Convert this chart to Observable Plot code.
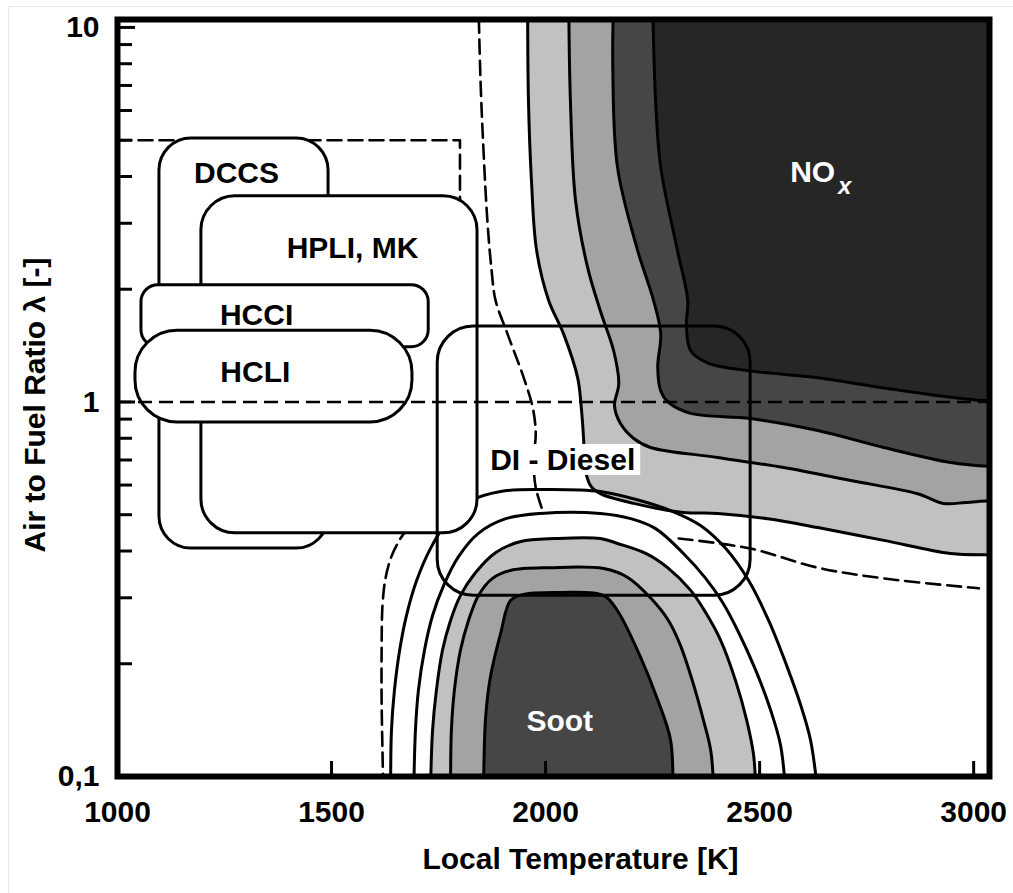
<!DOCTYPE html>
<html>
<head>
<meta charset="utf-8">
<script src="https://cdn.jsdelivr.net/npm/d3@7"></script>
<script src="https://cdn.jsdelivr.net/npm/@observablehq/plot@0.6"></script>
<style>
  html, body { margin: 0; padding: 0; background: #fff; }
  #chart { position: relative; width: 1013px; height: 893px; overflow: hidden; }
  #chart::after { content: ""; position: absolute; left: 8px; top: 6px; right: 0; bottom: 0;
    border-left: 1px solid #e6e6e6; border-top: 1px solid #e6e6e6; pointer-events: none; }
  svg { display: block; }
</style>
</head>
<body>
<div id="chart"></div>
<script>
// Axis ticks
const xTicks = [1000, 1500, 2000, 2500, 3000];
const yTicks = [0.1, 1, 10];
const yTickLabels = ["0,1", "1", "10"];
const yMinorTicks = [0.2, 0.3, 0.4, 0.5, 0.6, 0.7, 0.8, 0.9, 2, 3, 4, 5, 6, 7, 8, 9];

// NOx iso-lines [T (K), lambda], outermost level first; each closes round the hot lean corner
const noxLevel1 = [[1958,12],[1960,6.38],[1967,3.90],[1979,2.54],[2007,1.87],[2042,1.52],[2075,1.16],[2084,0.949],[2089,0.789],[2091,0.677],[2105,0.598],[2128,0.569],[2206,0.536],[2322,0.507],[2402,0.504],[2519,0.488],[2636,0.462],[2790,0.427],[2946,0.394],[3037,0.391],[3080,0.391],[3150,0.391],[3150,12]];
const noxLevel2 = [[2054,12],[2058,6.38],[2070,3.45],[2098,2.29],[2128,1.75],[2159,1.37],[2171,1.12],[2161,0.978],[2175,0.876],[2206,0.799],[2245,0.756],[2402,0.711],[2556,0.668],[2713,0.617],[2869,0.569],[2930,0.536],[2981,0.539],[3037,0.545],[3080,0.545],[3150,0.545],[3150,12]];
const noxLevel3 = [[2159,12],[2157,7.82],[2168,4.23],[2215,2.54],[2252,1.87],[2269,1.52],[2262,1.24],[2269,1.07],[2287,0.997],[2339,0.932],[2479,0.903],[2636,0.839],[2790,0.756],[2946,0.689],[3037,0.673],[3080,0.673],[3150,0.673],[3150,12]];
const noxLevel4 = [[2250,12],[2257,6.38],[2269,4.23],[2308,2.54],[2332,1.87],[2329,1.60],[2339,1.37],[2379,1.27],[2479,1.21],[2636,1.16],[2790,1.09],[2946,1.03],[3016,1.01],[3037,1.01],[3080,1.01],[3150,1.01],[3150,12]];

// Soot iso-lines [T (K), lambda], outermost first; each arch stands on the lower edge
const sootLevel0 = [[1638,0.09],[1640,0.133],[1647,0.170],[1659,0.217],[1675,0.269],[1699,0.334],[1731,0.406],[1773,0.483],[1825,0.545],[1895,0.577],[1988,0.584],[2128,0.577],[2222,0.545],[2292,0.513],[2362,0.468],[2421,0.406],[2474,0.334],[2521,0.261],[2563,0.198],[2596,0.155],[2619,0.125],[2636,0.09]];
const sootLevel1 = [[1692,0.09],[1696,0.133],[1703,0.170],[1717,0.217],[1736,0.269],[1762,0.324],[1797,0.387],[1843,0.446],[1907,0.488],[1988,0.504],[2128,0.504],[2199,0.488],[2257,0.459],[2322,0.394],[2374,0.338],[2414,0.291],[2449,0.245],[2491,0.192],[2526,0.150],[2549,0.121],[2561,0.09]];
const sootLevel2 = [[1731,0.09],[1736,0.133],[1745,0.170],[1759,0.217],[1778,0.261],[1801,0.304],[1836,0.350],[1883,0.396],[1942,0.424],[2023,0.432],[2128,0.432],[2168,0.419],[2234,0.394],[2285,0.361],[2339,0.314],[2374,0.274],[2409,0.231],[2444,0.180],[2470,0.141],[2486,0.114],[2491,0.09]];
const sootLevel3 = [[1778,0.09],[1780,0.133],[1787,0.170],[1801,0.217],[1820,0.261],[1843,0.304],[1876,0.338],[1918,0.355],[2012,0.361],[2136,0.359],[2192,0.340],[2245,0.300],[2287,0.261],[2315,0.224],[2343,0.180],[2369,0.141],[2386,0.117],[2393,0.09]];
const sootLevel4 = [[1855,0.09],[1860,0.144],[1871,0.184],[1895,0.241],[1918,0.295],[1946,0.306],[2035,0.310],[2136,0.304],[2168,0.277],[2222,0.208],[2262,0.160],[2292,0.125],[2297,0.09]];

// Dashed boundaries
const noxLimitDashed = [[1843,12],[1848,7.22],[1855,4.69],[1864,3.05],[1874,2.24],[1883,1.87],[1911,1.52],[1949,1.16],[1970,0.966],[1977,0.824],[1972,0.698],[1977,0.591],[1993,0.513]];
const sootLimitDashed = [[1680,0.462],[1661,0.432],[1640,0.387],[1626,0.338],[1619,0.286],[1617,0.217],[1617,0.160],[1619,0.117],[1621,0.09]];
const richLimitDashed = [[2311,0.432],[2479,0.406],[2636,0.361],[2790,0.338],[3012,0.318]];
const lowTempWindow = [[1000,5],[1800,5],[1800,1]];
const stoichiometric = [1];

// Combustion regimes: name, temperature span, lambda span, label anchor
const regimeNames = ["DCCS", "HPLI, MK", "HCCI", "HCLI", "DI - Diesel"];
const regimeTmin = [1098, 1196, 1056, 1042, 1748];
const regimeTmax = [1493, 1841, 1727, 1689, 2479];
const regimeLmin = [0.406, 0.446, 1.40, 0.882, 0.304];
const regimeLmax = [5.05, 3.54, 2.05, 1.55, 1.59];
const regimeLabelT = [1278, 1549, 1325, 1322, 2040];
const regimeLabelL = [4.07, 2.57, 1.70, 1.20, 0.698];

// Emission zone labels
const zoneNames = ["Soot", "NO"];
const zoneT = [2033, 2624];
const zoneL = [0.140, 4.10];

const regimes = regimeNames.map((name, i) => ({
  name, t1: regimeTmin[i], t2: regimeTmax[i], l1: regimeLmin[i], l2: regimeLmax[i],
  T: regimeLabelT[i], L: regimeLabelL[i]
}));
const zones = zoneNames.map((name, i) => ({name, T: zoneT[i], L: zoneL[i]}));

const LIGHT = "#c1c1c1", MID = "#a3a3a3", DARK = "#464646", CORE = "#262626";
const fillOf = (fill) => ({curve: "catmull-rom", fill, stroke: "none", clip: true});
const solid = {curve: "catmull-rom", stroke: "black", strokeWidth: 3, clip: true};
const dashed = {curve: "catmull-rom", stroke: "black", strokeWidth: 2.6, strokeDasharray: "14,7", clip: true};
const cornerRadius = {"DCCS": 32, "HPLI, MK": 34, "HCCI": 17, "HCLI": 42, "DI - Diesel": 36};

const box = (name, fill) => Plot.rect(regimes.filter(d => d.name === name), {
  x1: "t1", x2: "t2", y1: "l1", y2: "l2", rx: cornerRadius[name], ry: cornerRadius[name],
  fill, stroke: "black", strokeWidth: 3
});

const chart = Plot.plot({
  width: 1013,
  height: 893,
  marginLeft: 117,
  marginRight: 24,
  marginTop: 19,
  marginBottom: 117,
  style: {fontFamily: "'Liberation Sans', Arial, sans-serif", fontSize: "30px", fontWeight: "bold", color: "black", background: "white"},
  x: {domain: [1000, 3037]},
  y: {type: "log", domain: [0.1, 10.5]},
  marks: [
    // filled NOx bands
    Plot.line(noxLevel1, fillOf(LIGHT)),
    Plot.line(noxLevel2, fillOf(MID)),
    Plot.line(noxLevel3, fillOf(DARK)),
    Plot.line(noxLevel4, fillOf(CORE)),
    // filled soot bands
    Plot.line(sootLevel2, fillOf(LIGHT)),
    Plot.line(sootLevel3, fillOf(MID)),
    Plot.line(sootLevel4, fillOf(DARK)),
    // iso-lines
    Plot.line(noxLevel1, solid),
    Plot.line(noxLevel2, solid),
    Plot.line(noxLevel3, solid),
    Plot.line(noxLevel4, solid),
    Plot.line(sootLevel0, solid),
    Plot.line(sootLevel1, solid),
    Plot.line(sootLevel2, solid),
    Plot.line(sootLevel3, solid),
    Plot.line(sootLevel4, solid),
    // dashed limits
    Plot.line(noxLimitDashed, dashed),
    Plot.line(sootLimitDashed, dashed),
    Plot.line(richLimitDashed, dashed),
    Plot.line(lowTempWindow, {stroke: "black", strokeWidth: 2.6, strokeDasharray: "14,7", clip: true}),
    // combustion regimes
    box("DCCS", "white"),
    box("HPLI, MK", "white"),
    box("HCCI", "white"),
    box("HCLI", "white"),
    Plot.ruleY(stoichiometric, {stroke: "black", strokeWidth: 2.6, strokeDasharray: "14,7"}),
    box("DI - Diesel", "none"),
    Plot.rect(regimes.filter(d => d.name === "DI - Diesel"), {
      x1: "T", x2: "T", y1: "L", y2: "L",
      insetLeft: -79, insetRight: -78, insetTop: -16, insetBottom: -15, fill: "white"
    }),
    Plot.text(regimes, {x: "T", y: "L", text: "name", fill: "black"}),
    // emission zone labels
    Plot.text(zones, {x: "T", y: "L", text: "name", fill: "white"}),
    Plot.text(zones.filter(d => d.name === "NO"), {
      x: "T", y: "L", text: () => "x", fill: "white", fontStyle: "italic", fontSize: 24, dx: 32, dy: 14
    }),
    // axes
    Plot.axisX({ticks: xTicks, tickSize: 0, tickPadding: 24, tickFormat: d => String(d), label: null}),
    Plot.axisX({ticks: xTicks, tickSize: -15, strokeWidth: 3, tickFormat: () => "", label: null}),
    Plot.axisY({ticks: yTicks, tickSize: 0, tickPadding: 18, tickFormat: d => yTickLabels[yTicks.indexOf(d)], label: null}),
    Plot.axisY({ticks: yMinorTicks, tickSize: -15, strokeWidth: 3, tickFormat: () => "", label: null}),
    Plot.axisY({ticks: [1, 10], tickSize: -18, strokeWidth: 3, tickFormat: () => "", label: null}),
    Plot.text(["Local Temperature [K]"], {frameAnchor: "bottom", text: d => d, textAnchor: "middle", dx: 27, dy: 92}),
    Plot.text(["Air to Fuel Ratio λ [-]"], {frameAnchor: "left", text: d => d, textAnchor: "middle", rotate: -90, dx: -82, dy: 7}),
    Plot.frame({stroke: "black", strokeWidth: 6})
  ]
});

document.getElementById("chart").appendChild(chart);
</script>
</body>
</html>
